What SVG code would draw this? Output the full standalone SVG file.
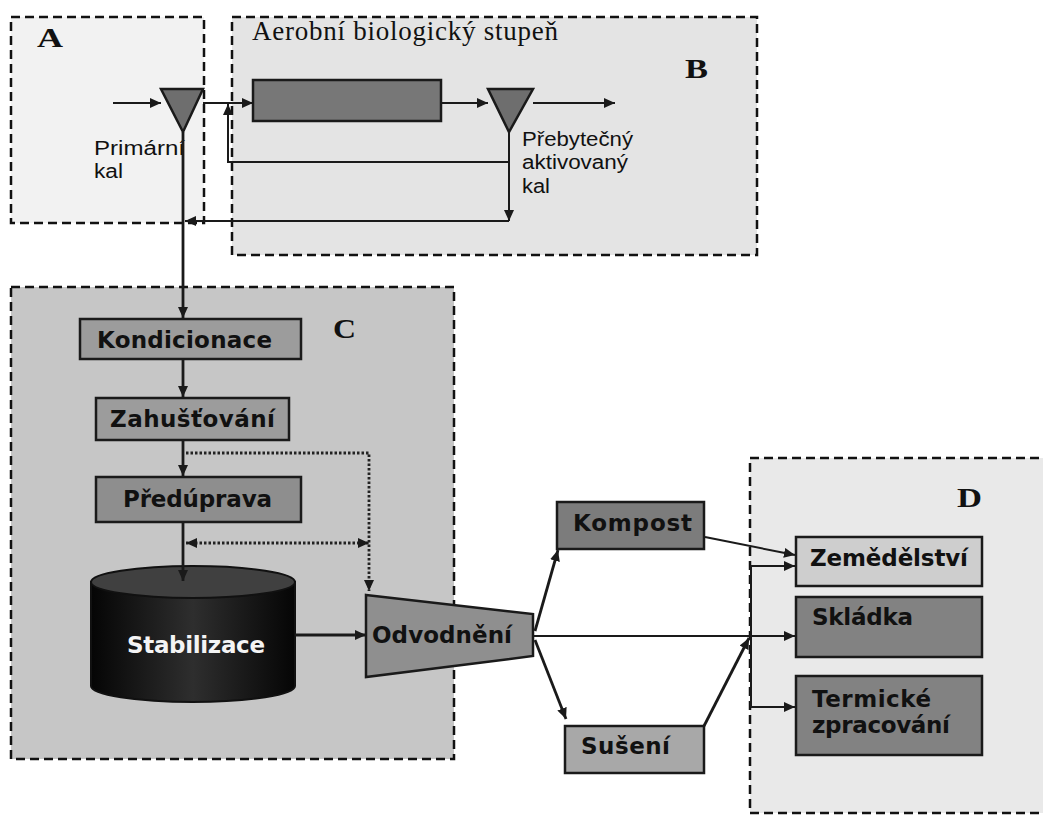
<svg xmlns="http://www.w3.org/2000/svg" width="1043" height="816" viewBox="0 0 1043 816">
<style>
.zone{stroke:#111;stroke-width:2.5;stroke-dasharray:9,5}
.box{stroke:#1a1a1a;stroke-width:2.5}
.lbl{font-family:"DejaVu Sans",Verdana,sans-serif;font-weight:bold;font-size:23px;fill:#111}
.zl{font-family:"Liberation Serif","Times New Roman",serif;font-weight:bold;font-size:28px;fill:#111}
.sl{font-family:"Liberation Sans",Arial,sans-serif;font-size:20px;fill:#111}
.ln{fill:none;stroke:#1a1a1a;stroke-width:2}
.lm{fill:none;stroke:#1a1a1a;stroke-width:2.8}
.dot{fill:none;stroke:#222;stroke-width:2.8;stroke-dasharray:2.5,2}
</style>
<defs>
<marker id="ah" markerUnits="userSpaceOnUse" markerWidth="12" markerHeight="10" refX="11" refY="5" orient="auto">
<path d="M0,0 L11,5 L0,10 z" fill="#1a1a1a"/>
</marker>
<marker id="ahs" markerUnits="userSpaceOnUse" markerWidth="12" markerHeight="10" refX="0" refY="5" orient="auto">
<path d="M11,0 L0,5 L11,10 z" fill="#1a1a1a"/>
</marker>
<linearGradient id="cyl" x1="0" y1="0" x2="1" y2="0">
<stop offset="0" stop-color="#050505"/>
<stop offset="0.5" stop-color="#2e2e2e"/>
<stop offset="1" stop-color="#050505"/>
</linearGradient>
</defs>
<rect width="1043" height="816" fill="#ffffff"/>

<g id="zoneA">
<rect class="zone" x="11" y="17" width="193" height="206" fill="#f2f2f2"/>
<text class="zl" x="37" y="47" textLength="26" lengthAdjust="spacingAndGlyphs">A</text>
</g>
<g id="zoneB">
<rect class="zone" x="232" y="17" width="525" height="238" fill="#e4e4e4"/>
<text x="252" y="40" font-family="Liberation Serif,Times New Roman,serif" font-size="27" fill="#111" textLength="306" lengthAdjust="spacing">Aerobní biologický stupeň</text>
<text class="zl" x="685" y="78" textLength="23" lengthAdjust="spacingAndGlyphs">B</text>
</g>
<g id="zoneC">
<rect class="zone" x="11" y="287" width="443" height="472" fill="#c6c6c6"/>
<text class="zl" x="333" y="338" textLength="23" lengthAdjust="spacingAndGlyphs">C</text>
</g>
<g id="zoneD">
<rect class="zone" x="750" y="458" width="310" height="355" fill="#e9e9e9"/>
<text class="zl" x="957" y="507" textLength="25" lengthAdjust="spacingAndGlyphs">D</text>
</g>

<g id="primary-settler">
<polygon class="box" points="161,89 203,89 183,132" fill="#6e6e6e" stroke-width="2"/>
<text class="sl" x="94" y="155" textLength="91" lengthAdjust="spacingAndGlyphs">Primární</text>
<text class="sl" x="94" y="178" textLength="29" lengthAdjust="spacingAndGlyphs">kal</text>
</g>
<g id="reactor">
<rect class="box" x="253" y="80" width="188" height="41" fill="#777777" stroke-width="2"/>
</g>
<g id="secondary-settler">
<polygon class="box" points="488,89 533,89 509,132" fill="#6e6e6e" stroke-width="2"/>
<text class="sl" x="522" y="146" textLength="111" lengthAdjust="spacingAndGlyphs">Přebytečný</text>
<text class="sl" x="522" y="169" textLength="106" lengthAdjust="spacingAndGlyphs">aktivovaný</text>
<text class="sl" x="522" y="193" textLength="28" lengthAdjust="spacingAndGlyphs">kal</text>
</g>

<g id="kondicionace">
<rect class="box" x="80" y="319" width="221" height="40" fill="#9c9c9c"/>
<text class="lbl" x="97" y="348" textLength="175">Kondicionace</text>
</g>
<g id="zahustovani">
<rect class="box" x="96" y="398" width="193" height="42" fill="#9c9c9c"/>
<text class="lbl" x="110" y="427" textLength="165">Zahušťování</text>
</g>
<g id="preduprava">
<rect class="box" x="96" y="477" width="205" height="45" fill="#8e8e8e"/>
<text class="lbl" x="123" y="507" textLength="149">Předúprava</text>
</g>
<g id="stabilizace">
<path d="M91,582 L91,686 A102,16 0 0 0 295,686 L295,582 Z" fill="url(#cyl)" stroke="#111" stroke-width="2"/>
<ellipse cx="193" cy="582" rx="102" ry="16" fill="#404040" stroke="#111" stroke-width="2"/>
<text class="lbl" x="127" y="653" textLength="138" style="fill:#f4f4f4">Stabilizace</text>
</g>
<g id="odvodneni">
<polygon class="box" points="366,595 533,614 533,656 366,677" fill="#8f8f8f"/>
<text class="lbl" x="372" y="643" textLength="140">Odvodnění</text>
</g>
<g id="kompost">
<rect class="box" x="557" y="502" width="147" height="47" fill="#7c7c7c"/>
<text class="lbl" x="573" y="531" textLength="119">Kompost</text>
</g>
<g id="suseni">
<rect class="box" x="565" y="726" width="139" height="47" fill="#a8a8a8"/>
<text class="lbl" x="581" y="754" textLength="89">Sušení</text>
</g>
<g id="zemedelstvi">
<rect class="box" x="796" y="537" width="186" height="49" fill="#cecece"/>
<text class="lbl" x="810" y="566" textLength="158">Zemědělství</text>
</g>
<g id="skladka">
<rect class="box" x="796" y="597" width="186" height="60" fill="#828282"/>
<text class="lbl" x="812" y="625" textLength="101">Skládka</text>
</g>
<g id="termicke">
<rect class="box" x="796" y="676" width="186" height="79" fill="#828282"/>
<text class="lbl" x="812" y="707" textLength="119">Termické</text>
<text class="lbl" x="812" y="733" textLength="138">zpracování</text>
</g>

<g id="connectors">
<line class="ln" x1="113" y1="103" x2="161" y2="103" marker-end="url(#ah)"/>
<line class="ln" x1="203" y1="103" x2="253" y2="103" marker-end="url(#ah)"/>
<line class="ln" x1="441" y1="103" x2="488" y2="103" marker-end="url(#ah)"/>
<line class="ln" x1="533" y1="103" x2="615" y2="103" marker-end="url(#ah)"/>
<polyline class="ln" points="509,162 228,162 228,104" marker-end="url(#ah)"/>
<line class="ln" x1="509" y1="132" x2="509" y2="221" marker-end="url(#ah)"/>
<line class="ln" x1="509" y1="221" x2="185" y2="221" marker-end="url(#ah)"/>
<line class="lm" x1="183" y1="132" x2="183" y2="318" marker-end="url(#ah)"/>
<line class="lm" x1="183" y1="359" x2="183" y2="397" marker-end="url(#ah)"/>
<line class="lm" x1="183" y1="440" x2="183" y2="476" marker-end="url(#ah)"/>
<line class="lm" x1="183" y1="522" x2="183" y2="581" marker-end="url(#ah)"/>
<polyline class="dot" points="186,453 369,453 369,591" marker-end="url(#ah)"/>
<line class="dot" x1="186" y1="543" x2="369" y2="543" marker-start="url(#ahs)" marker-end="url(#ah)"/>
<line class="lm" x1="295" y1="635" x2="366" y2="635" marker-end="url(#ah)"/>
<line class="lm" x1="535" y1="631" x2="558" y2="550" marker-end="url(#ah)"/>
<line class="lm" x1="535" y1="640" x2="566" y2="719" marker-end="url(#ah)"/>
<line class="ln" x1="533" y1="636" x2="795" y2="636" marker-end="url(#ah)"/>
<line class="ln" x1="705" y1="537" x2="795" y2="555" marker-end="url(#ah)"/>
<line class="lm" x1="704" y1="726" x2="749" y2="638" marker-end="url(#ah)"/>
<line class="ln" x1="751" y1="565" x2="751" y2="707"/>
<line class="ln" x1="751" y1="566" x2="795" y2="566" marker-end="url(#ah)"/>
<line class="ln" x1="751" y1="707" x2="795" y2="707" marker-end="url(#ah)"/>
</g>
</svg>
